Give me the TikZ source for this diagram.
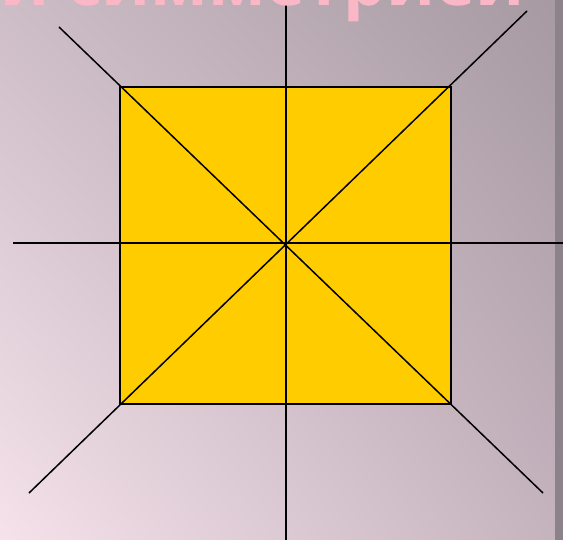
\documentclass[tikz,border=0pt]{standalone}
\usepackage{fontspec}
\setmainfont{Open Sans}
\usetikzlibrary{shadings}
\definecolor{bgTL}{RGB}{205,189,199}
\definecolor{bgTR}{RGB}{166,153,161}
\definecolor{bgBL}{RGB}{245,226,235}
\definecolor{bgBR}{RGB}{196,178,189}
\definecolor{stripc}{RGB}{140,130,137}
\definecolor{sqfill}{RGB}{255,204,0}
\definecolor{titlepink}{RGB}{250,184,198}
\tikzset{
  axis/.style={draw=black, line width=1.5pt},
  sqbox/.style={draw=black, line width=1.5pt, fill=sqfill},
  titletext/.style={inner sep=0pt, font=\bfseries\fontsize{68}{68}\selectfont, text=titlepink}
}
\begin{document}
\begin{tikzpicture}[x=1pt,y=-1pt]
\useasboundingbox (0,0) rectangle (563,540);
\shade[upper left=bgTL, upper right=bgTR, lower left=bgBL, lower right=bgBR] (0,0) rectangle (563,540);
\fill[stripc] (555,0) rectangle (563,540);
% named points
\coordinate (C) at (286,243);
\coordinate (TL) at (120,87);
\coordinate (TR) at (451,87);
\coordinate (BR) at (451,404);
\coordinate (BL) at (120,404);
\coordinate (vt) at (286,0);
\coordinate (vb) at (286,540);
\coordinate (hl) at (13,243);
\coordinate (hr) at (563,243);
\coordinate (d1a) at (59,27);
\coordinate (d1b) at (543,493);
\coordinate (d2a) at (527,11);
\coordinate (d2b) at (29,493);
% square
\path[sqbox] (TL) -- (TR) -- (BR) -- (BL) -- cycle;
% axes
\draw[axis] (vt) -- (vb);
\draw[axis] (hl) -- (hr);
\draw[axis] (d1a) -- (d1b);
\draw[axis] (d2a) -- (d2b);
% title
\node[titletext, anchor=base east] (title) at (525,6) {и симметрией};
\end{tikzpicture}
\end{document}
